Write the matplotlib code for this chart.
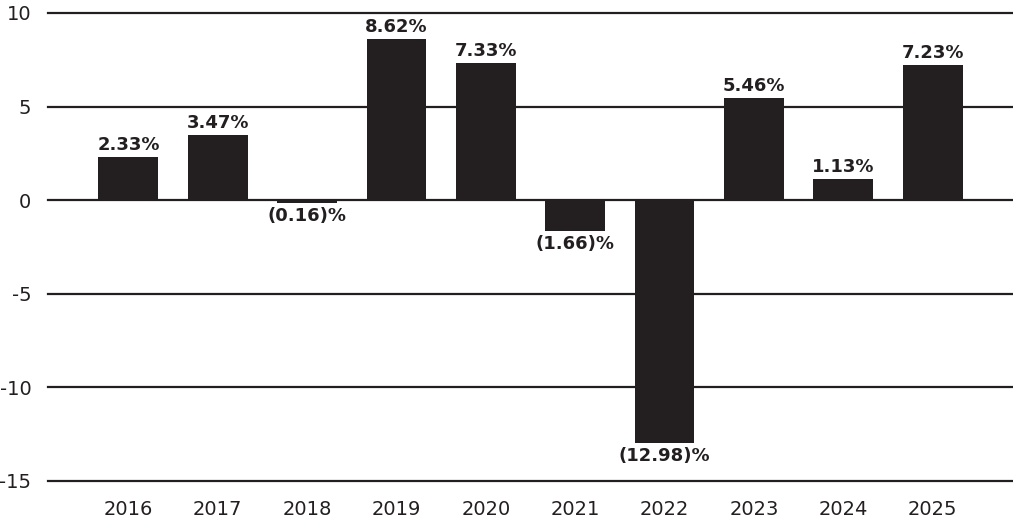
import matplotlib.pyplot as plt

years = ['2016', '2017', '2018', '2019', '2020', '2021', '2022', '2023', '2024', '2025']
returns = [2.33, 3.47, -0.16, 8.62, 7.33, -1.66, -12.98, 5.46, 1.13, 7.23]
labels = ['2.33%', '3.47%', '(0.16)%', '8.62%', '7.33%', '(1.66)%', '(12.98)%', '5.46%', '1.13%', '7.23%']

plt.rcParams['font.family'] = ['DejaVu Sans']
plt.rcParams['axes.unicode_minus'] = False
dark = '#231f20'

fig = plt.figure(figsize=(10.13, 5.22), dpi=100)
ax = fig.add_axes([48 / 1013, 41 / 522, 965 / 1013, 468 / 522])

x = range(len(years))
ax.bar(x, returns, width=0.67, color=dark, zorder=3)
for i, (v, lab) in enumerate(zip(returns, labels)):
    if v >= 0:
        ax.annotate(lab, (i, v), xytext=(0, 2), textcoords='offset points',
                    ha='center', va='bottom', fontsize=13, fontweight='bold', color=dark)
    else:
        ax.annotate(lab, (i, v), xytext=(0, -3), textcoords='offset points',
                    ha='center', va='top', fontsize=13, fontweight='bold', color=dark)

ax.set_xlim(-0.9, 9.9)
ax.set_ylim(-15, 10)
ax.set_yticks([-15, -10, -5, 0, 5, 10])
ax.set_xticks(list(x))
ax.set_xticklabels(years)
for y in [-15, -10, -5, 0, 5, 10]:
    ax.axhline(y, color=dark, lw=1.6, zorder=2, clip_on=False)
for s in ax.spines.values():
    s.set_visible(False)
ax.tick_params(axis='both', length=0, labelsize=14, colors=dark)
ax.tick_params(axis='y', pad=12)
ax.tick_params(axis='x', pad=14)

fig.savefig('out.png', dpi=100)
